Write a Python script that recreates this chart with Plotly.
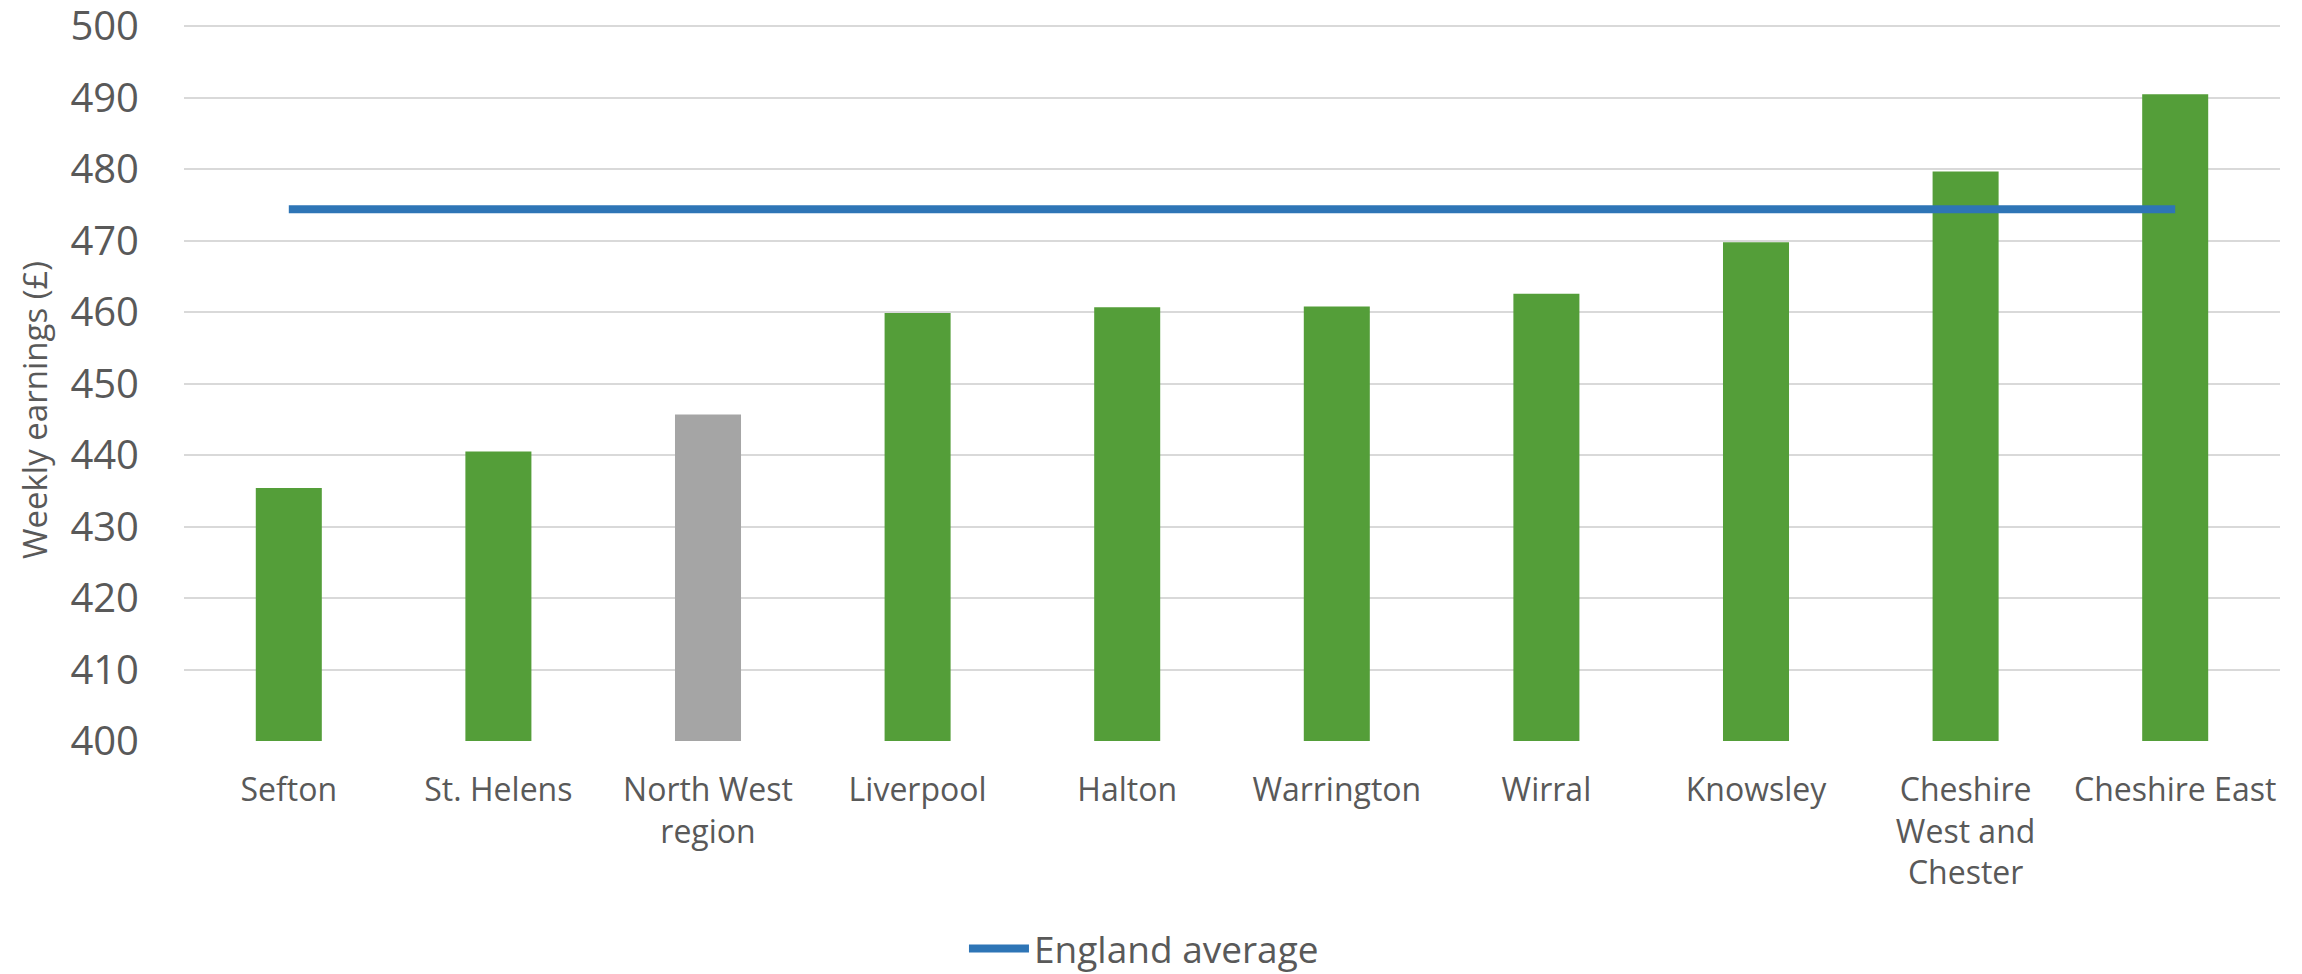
import plotly.graph_objects as go

categories = ["Sefton", "St. Helens", "North West<br>region", "Liverpool", "Halton",
              "Warrington", "Wirral", "Knowsley", "Cheshire<br>West and<br>Chester", "Cheshire East"]
earnings = [435.4, 440.5, 445.7, 459.9, 460.7, 460.8, 462.6, 469.8, 479.7, 490.5]
england_avg = [474.4, 474.4, 474.4, 474.4, 474.4, 474.4, 474.4, 474.4, 474.4, 474.4]
bar_colors = ["#549E39", "#549E39", "#A5A5A5", "#549E39", "#549E39",
              "#549E39", "#549E39", "#549E39", "#549E39", "#549E39"]
y_ticks = [400, 410, 420, 430, 440, 450, 460, 470, 480, 490, 500]

FONT = "Open Sans"
GREY = "#595959"

fig = go.Figure()
fig.add_trace(go.Bar(
    x=categories, y=earnings, marker=dict(color=bar_colors, line=dict(width=0)),
    showlegend=False, name="Weekly earnings",
))
fig.add_trace(go.Scatter(
    x=categories, y=england_avg, mode="lines", name="England average",
    line=dict(color="#2E75B6", width=8),
))

L, R, T, B = 184, 22, 25, 233
pw, ph = 2302 - L - R, 974 - T - B

fig.update_layout(
    width=2302, height=974,
    margin=dict(l=L, r=R, t=T, b=B),
    paper_bgcolor="white", plot_bgcolor="white",
    bargap=0.685,
    font=dict(family=FONT, color=GREY),
    legend=dict(orientation="h", x=0.458, xanchor="center", yref="container",
                y=(974 - 949) / 974, yanchor="middle",
                font=dict(size=37, color=GREY, family=FONT), itemwidth=60),
    xaxis=dict(tickfont=dict(size=32, color=GREY, family=FONT), showgrid=False,
               showline=False, ticks="", ticklabelstandoff=27, automargin=False),
    yaxis=dict(range=[400, 500.2], tickvals=y_ticks, tickfont=dict(size=40, color=GREY, family=FONT),
               showgrid=True, gridcolor="#D9D9D9", gridwidth=2, zeroline=False,
               showline=False, ticks="", ticklabelstandoff=44, ticklabeloverflow="allow",
               automargin=False),
    annotations=[dict(text="Weekly earnings (£)", textangle=-90,
                      x=(34 - L) / pw, xref="paper", y=(974 - B - 410) / ph, yref="paper",
                      xanchor="center", yanchor="middle", showarrow=False,
                      font=dict(size=33, color=GREY, family=FONT))],
)

fig.write_html("out.html")
